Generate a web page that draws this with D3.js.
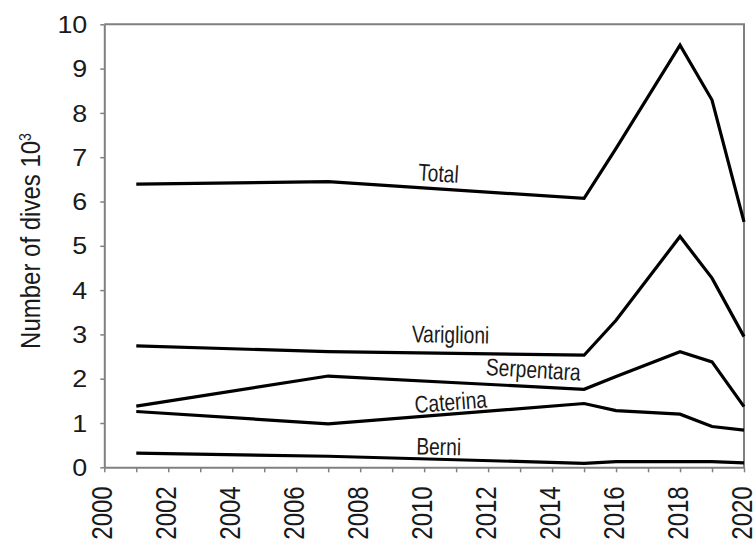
<!DOCTYPE html>
<html>
<head>
<meta charset="utf-8">
<script src="https://cdn.jsdelivr.net/npm/d3@7"></script>
<style>
  html, body { margin: 0; padding: 0; background: #fff; }
  svg { display: block; }
  text { font-family: "Liberation Sans", Arial, sans-serif; fill: #1a1a1a; }
</style>
</head>
<body>
<svg id="chart" width="753" height="544"></svg>
<script>
// ---- data ----
const years      = [2001, 2007, 2015, 2016, 2018, 2019, 2020];
const total      = [6.39, 6.45, 6.07, 7.20, 9.53, 8.29, 5.54];
const variglioni = [2.74, 2.61, 2.53, 3.32, 5.21, 4.27, 2.95];
const serpentara = [1.38, 2.06, 1.76, 2.05, 2.61, 2.38, 1.37];
const caterina   = [1.26, 0.98, 1.44, 1.28, 1.20, 0.92, 0.84];
const berni      = [0.32, 0.25, 0.09, 0.13, 0.13, 0.13, 0.10];
const seriesNames = ["Total", "Variglioni", "Serpentara", "Caterina", "Berni"];
const xTickLabels = [2000, 2002, 2004, 2006, 2008, 2010, 2012, 2014, 2016, 2018, 2020];
const yTickLabels = [0, 1, 2, 3, 4, 5, 6, 7, 8, 9, 10];
const yTitle = "Number of dives 10";
const yTitleSup = "3";

// ---- layout ----
const mLeft = 104.3, mRight = 744, mTop = 24.3, mBottom = 467.3;
const svg = d3.select("#chart");
svg.append("rect").attr("width", 753).attr("height", 544).attr("fill", "#fff");

const x = d3.scaleLinear().domain([2000, 2020]).range([mLeft, mRight]);
const y = d3.scaleLinear().domain([0, 10]).range([mBottom, mTop]);

const axisColor = "#808080";

// frame (top and right)
svg.append("path")
  .attr("d", `M${mLeft},${mTop}H${mRight}V${mBottom}`)
  .attr("fill", "none").attr("stroke", axisColor).attr("stroke-width", 2);

// x axis
const gx = svg.append("g").attr("transform", `translate(0,${mBottom})`)
  .call(d3.axisBottom(x).tickValues(d3.range(2000, 2021)).tickSize(5).tickSizeOuter(0).tickFormat(""));
gx.select(".domain").attr("stroke", axisColor).attr("stroke-width", 2);
gx.selectAll(".tick line").attr("stroke", axisColor).attr("stroke-width", 1.5);

// y axis
const gy = svg.append("g").attr("transform", `translate(${mLeft},0)`)
  .call(d3.axisLeft(y).tickValues(yTickLabels).tickSize(4).tickSizeOuter(0).tickFormat(""));
gy.select(".domain").attr("stroke", axisColor).attr("stroke-width", 2);
gy.selectAll(".tick line").attr("stroke", axisColor).attr("stroke-width", 1.5);

// y tick labels
svg.append("g").selectAll("text").data(yTickLabels).join("text")
  .attr("transform", d => `translate(${mLeft - 17},${y(d)}) scale(1.12,1)`)
  .attr("text-anchor", "end")
  .attr("dy", "0.36em")
  .attr("font-size", 24)
  .text(d => d);

// x tick labels (rotated)
svg.append("g").selectAll("text").data(xTickLabels).join("text")
  .attr("transform", d => `translate(${x(d) - 2.5},${mBottom + 19}) scale(1.2,1) rotate(-90)`)
  .attr("text-anchor", "end")
  .attr("dy", "0.36em")
  .attr("font-size", 24)
  .text(d => d);

// y title
const yt = svg.append("text")
  .attr("transform", `translate(40,241) scale(1.12,1) rotate(-90)`)
  .attr("text-anchor", "middle")
  .attr("font-size", 24);
yt.append("tspan").text(yTitle);
yt.append("tspan").attr("dy", "-0.55em").attr("font-size", 14).text(yTitleSup);

// lines
const allSeries = [total, variglioni, serpentara, caterina, berni];
const line = d3.line().x(d => x(d[0])).y(d => y(d[1]));
svg.append("g").selectAll("path").data(allSeries).join("path")
  .attr("d", vals => line(years.map((yr, i) => [yr, vals[i]])))
  .attr("fill", "none")
  .attr("stroke", "#000")
  .attr("stroke-width", 3.2)
  .attr("stroke-linejoin", "miter");

// series labels (placed in data coordinates)
const labelYear  = [2010.43, 2010.82, 2013.40, 2010.85, 2010.45];
const labelValue = [6.45, 2.81, 2.02, 1.29, 0.28];
const labelAngle = [3.5, 1, 3.5, -4.5, 1];
svg.append("g").selectAll("text").data(seriesNames).join("text")
  .attr("transform", (d, i) => `translate(${x(labelYear[i])},${y(labelValue[i])}) rotate(${labelAngle[i]}) scale(0.8,1)`)
  .attr("text-anchor", "middle")
  .attr("font-size", 24)
  .text(d => d);
</script>
</body>
</html>
